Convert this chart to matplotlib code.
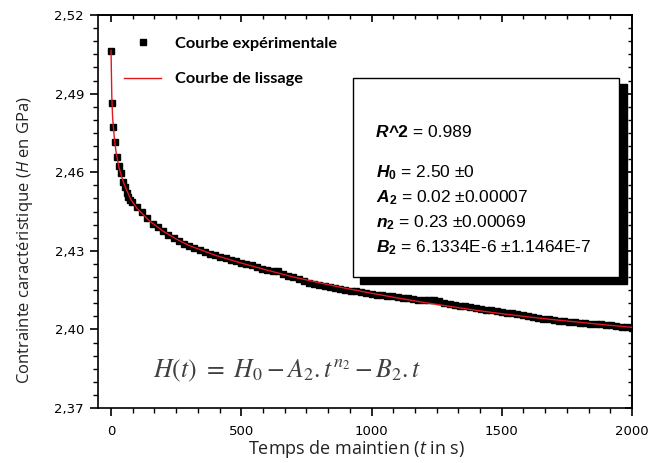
import matplotlib
matplotlib.use("Agg")
import matplotlib.pyplot as plt
from matplotlib.patches import Rectangle
from matplotlib.ticker import MultipleLocator, FuncFormatter

plt.rcParams['mathtext.fontset'] = 'custom'
plt.rcParams['mathtext.rm'] = 'Liberation Sans'
plt.rcParams['mathtext.it'] = 'Open Sans:italic'
plt.rcParams['mathtext.bf'] = 'Liberation Sans:bold'
plt.rcParams['mathtext.bfit'] = 'Liberation Sans:italic:bold'

# ---- data ----
t_exp = [0, 3, 9, 15, 22, 31, 38, 47, 54, 60, 67, 74,
         80, 100, 120, 140, 160, 180, 200, 220, 240, 260, 280, 300,
         320, 340, 360, 380, 400, 420, 440, 460, 480, 500, 520, 540,
         560, 580, 600, 620, 640, 660, 680, 700, 720, 740, 760, 780,
         800, 820, 840, 860, 880, 900, 920, 940, 960, 980, 1000, 1020,
         1040, 1060, 1080, 1100, 1120, 1140, 1160, 1180, 1200, 1220, 1240, 1260,
         1280, 1300, 1320, 1340, 1360, 1380, 1400, 1420, 1440, 1460, 1480, 1500,
         1520, 1540, 1560, 1580, 1600, 1620, 1640, 1660, 1680, 1700, 1720, 1740,
         1760, 1780, 1800, 1820, 1840, 1860, 1880, 1900, 1920, 1940, 1960, 1980, 2000]
H_exp = [2.5064, 2.4863, 2.4771, 2.4716, 2.4657, 2.4624, 2.4596, 2.4564, 2.4545, 2.4520, 2.4507, 2.4495,
         2.4485, 2.4466, 2.4447, 2.4426, 2.4404, 2.4390, 2.4376, 2.4361, 2.4348, 2.4339, 2.4327, 2.4318,
         2.4311, 2.4302, 2.4297, 2.4289, 2.4284, 2.4276, 2.4272, 2.4265, 2.4260, 2.4254, 2.4249, 2.4244,
         2.4239, 2.4232, 2.4227, 2.4222, 2.4224, 2.4213, 2.4204, 2.4199, 2.4191, 2.4183, 2.4177, 2.4173,
         2.4168, 2.4164, 2.4160, 2.4157, 2.4154, 2.4151, 2.4148, 2.4145, 2.4142, 2.4140, 2.4137, 2.4133,
         2.4131, 2.4129, 2.4126, 2.4123, 2.4121, 2.4118, 2.4116, 2.4114, 2.4113, 2.4112, 2.4114, 2.4107,
         2.4102, 2.4098, 2.4095, 2.4091, 2.4088, 2.4084, 2.4081, 2.4078, 2.4075, 2.4073, 2.4070, 2.4067,
         2.4064, 2.4061, 2.4058, 2.4055, 2.4051, 2.4047, 2.4045, 2.4041, 2.4041, 2.4036, 2.4033, 2.4031,
         2.4029, 2.4027, 2.4026, 2.4024, 2.4022, 2.4021, 2.4019, 2.4017, 2.4015, 2.4013, 2.4011, 2.4009, 2.4007]

t_fit = [0, 3, 6, 10, 15, 20, 30, 40, 50, 75, 100, 150, 200, 250, 300, 400, 500, 600, 700, 800,
         900, 1000, 1100, 1200, 1300, 1400, 1500, 1600, 1700, 1800, 1900, 2000]
H_fit = [2.5065, 2.4890, 2.4810, 2.4760, 2.4710, 2.4672, 2.4620, 2.4585, 2.4555, 2.4497, 2.4462,
         2.4412, 2.4375, 2.4345, 2.4320, 2.4283, 2.4253, 2.4226, 2.4200, 2.4178, 2.4157, 2.4138,
         2.4120, 2.4103, 2.4088, 2.4073, 2.4060, 2.4048, 2.4037, 2.4027, 2.4017, 2.4008]

x_ticks = [0, 500, 1000, 1500, 2000]
y_ticks = [2.37, 2.40, 2.43, 2.46, 2.49, 2.52]

legend_labels = ["Courbe expérimentale", "Courbe de lissage"]
fit_lines = [
    r"$\mathbfit{H}_{\mathbf{0}}$ = 2.50 ±0",
    r"$\mathbfit{A}_{\mathbf{2}}$ = 0.02 ±0.00007",
    r"$\mathbfit{n}_{\mathbf{2}}$ = 0.23 ±0.00069",
    r"$\mathbfit{B}_{\mathbf{2}}$ = 6.1334E-6 ±1.1464E-7",
]
r2_value = " = 0.989"
equation = r"$H(t)\ =\ H_0-A_2.t^{n_2}-B_2.t$"

# ---- figure ----
W, H = 657, 463
fig = plt.figure(figsize=(W / 100, H / 100), dpi=100)
ax = fig.add_axes([98 / W, 1 - 408 / H, (632 - 98) / W, (408 - 15) / H])

ax.plot(t_exp, H_exp, linestyle='none', marker='s', markersize=4.3, color='black',
        label=legend_labels[0], zorder=3)
ax.plot(t_fit, H_fit, color='#e01820', linewidth=1.0, label=legend_labels[1], zorder=4)

ax.set_xlim(-50, 2000)
ax.set_ylim(2.37, 2.52)
ax.set_xticks(x_ticks)
ax.set_yticks(y_ticks)
ax.xaxis.set_minor_locator(MultipleLocator(500 / 6))
ax.yaxis.set_minor_locator(MultipleLocator(0.005))
ax.yaxis.set_major_formatter(FuncFormatter(lambda v, p: f"{v:.2f}".replace('.', ',')))

for s in ax.spines.values():
    s.set_linewidth(1.2)

ax.tick_params(which='major', direction='out', length=6, width=1.2, labelsize=9.5,
               pad=4)
ax.tick_params(which='minor', direction='out', length=3.5, width=1.0)
ax.tick_params(axis='x', which='major', pad=6)
sec_x = ax.secondary_xaxis('top')
sec_x.set_xticks(x_ticks)
sec_x.xaxis.set_minor_locator(MultipleLocator(500 / 6))
sec_x.tick_params(which='major', direction='in', length=5, width=1.2, labeltop=False)
sec_x.tick_params(which='minor', direction='in', length=3, width=1.0)
sec_y = ax.secondary_yaxis('right')
sec_y.set_yticks(y_ticks)
sec_y.yaxis.set_minor_locator(MultipleLocator(0.005))
sec_y.tick_params(which='major', direction='in', length=5, width=1.2, labelright=False)
sec_y.tick_params(which='minor', direction='in', length=3, width=1.0)
sec_x.spines['top'].set_linewidth(1.2)
sec_y.spines['right'].set_linewidth(1.2)

ax.set_xlabel("Temps de maintien ($t$ in s)", family='Open Sans', fontsize=13,
              color='#222222', va='center', ha='center')
ax.set_ylabel("Contrainte caractéristique ($H$ en GPa)", family='Open Sans', fontsize=12,
              color='#222222', va='center', ha='center')
ax.xaxis.set_label_coords(0.485, -0.105)
ax.yaxis.set_label_coords(-0.137, 0.427)

leg = ax.legend(loc='upper left', bbox_to_anchor=(0.036, 0.963), frameon=False,
                prop=dict(family='Lato', weight='bold', size=11.8), handlelength=2.3,
                handletextpad=0.8, labelspacing=1.3, borderaxespad=0)

# ---- results box with shadow ----
def fx(px):
    return (px - 98) / (632 - 98)

def fy(py):
    return (408 - py) / (408 - 15)

shadow = Rectangle((fx(360), fy(284)), fx(627) - fx(360), fy(84) - fy(284),
                   transform=ax.transAxes, facecolor='black', edgecolor='black', zorder=5)
box = Rectangle((fx(353), fy(277)), fx(619) - fx(353), fy(78) - fy(277),
                transform=ax.transAxes, facecolor='white', edgecolor='black',
                linewidth=1.0, zorder=6)
ax.add_patch(shadow)
ax.add_patch(box)

fs = 12.5
r1 = ax.text(fx(376), fy(137), "R", transform=ax.transAxes, family='Liberation Sans',
             fontweight='bold', style='italic', fontsize=fs, va='baseline', zorder=7)
r2 = ax.annotate("^2", xy=(1, 0), xycoords=r1, va='bottom', ha='left',
                 family='Liberation Sans', fontweight='bold', fontsize=fs, zorder=7)
ax.annotate(r2_value, xy=(1, 0), xycoords=r2, va='bottom', ha='left',
            family='Liberation Sans', fontsize=fs, zorder=7)
for i, s in enumerate(fit_lines):
    ax.text(fx(376), fy(177 + 25 * i), s, transform=ax.transAxes, family='Liberation Sans',
            fontsize=fs, va='baseline', zorder=7)

ax.text(fx(153), fy(377), equation, transform=ax.transAxes, fontsize=18.5,
        color='#404040', math_fontfamily='stix', va='baseline')

fig.savefig("out.png", dpi=100)
